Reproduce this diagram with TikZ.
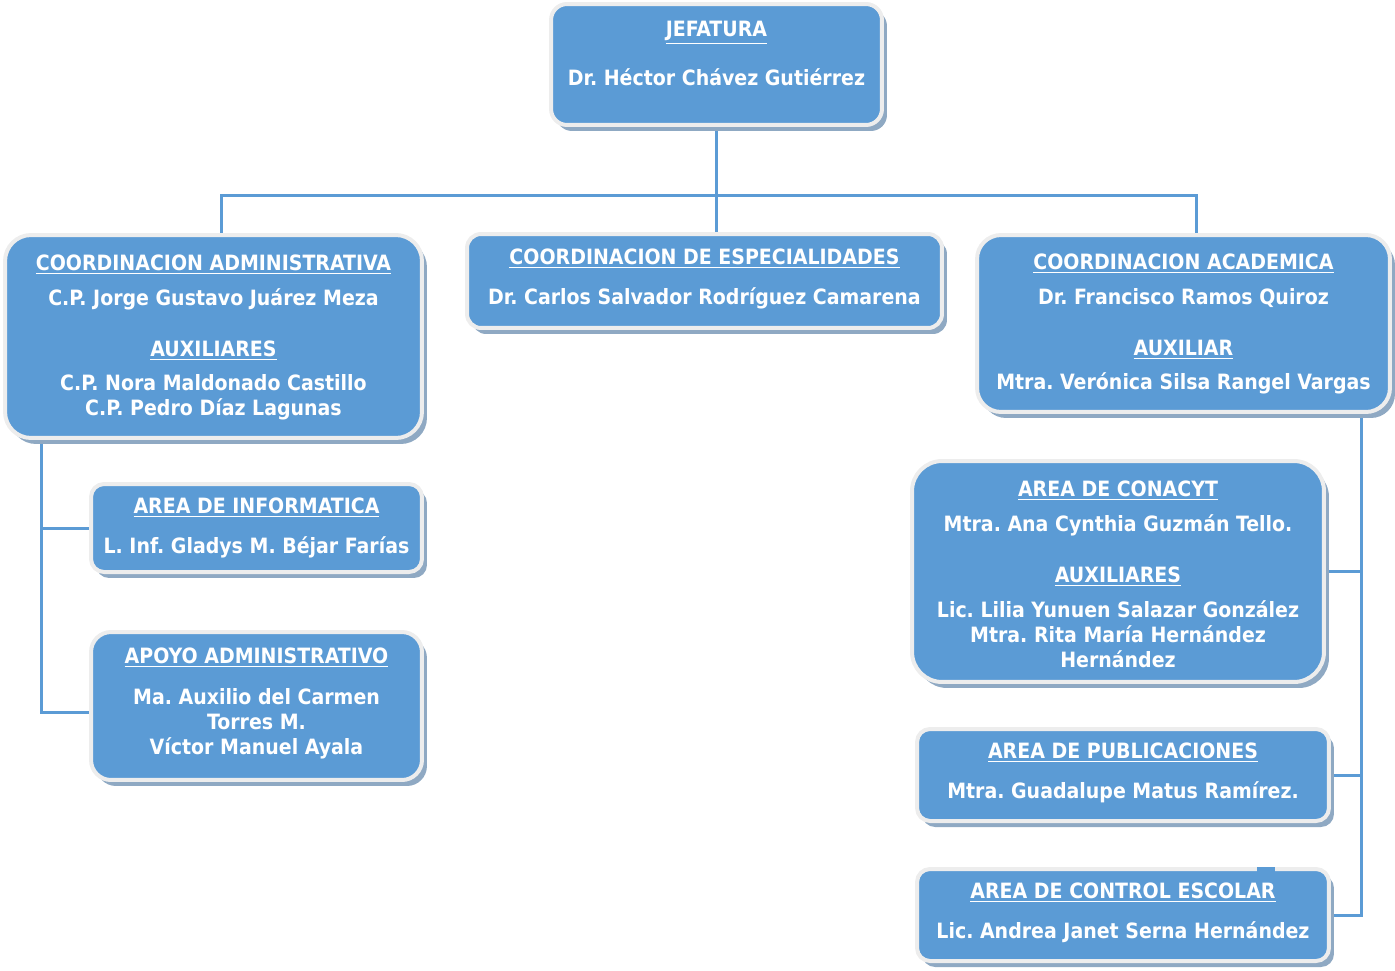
\documentclass[tikz,border=0pt]{standalone}
\usepackage{fontspec}
\setmainfont{DejaVu Sans Condensed}
\usetikzlibrary{positioning,shadows,backgrounds}
\definecolor{boxblue}{HTML}{5B9BD5}
\definecolor{boxrim}{HTML}{EDEDED}
\definecolor{boxshade}{HTML}{8FA9C3}
\frenchspacing

\begin{document}
\begin{tikzpicture}[
    x=0.02cm, y=-0.02cm,
    unit/.style={rectangle, fill=boxblue, draw=boxrim, line width=0.08cm,
        drop shadow={shadow xshift=0.1cm, shadow yshift=-0.12cm, fill=boxshade, opacity=1}},
    txt/.style={text=white, font=\bfseries\fontsize{12}{14.23}\selectfont, align=center, inner sep=0pt},
    link/.style={draw=boxblue, line width=0.06cm}
]
    \useasboundingbox (0,0) rectangle (1395,970);

    % boxes
    \node[unit, minimum width=6.62cm, minimum height=2.42cm, rounded corners=0.32cm] (jefatura) at (716.5,64.5) {};
    \node[unit, minimum width=8.34cm, minimum height=4.06cm, rounded corners=0.52cm] (admin) at (213.5,336.5) {};
    \node[unit, minimum width=9.5cm, minimum height=1.88cm, rounded corners=0.28cm] (espec) at (704.5,281) {};
    \node[unit, minimum width=8.26cm, minimum height=3.54cm, rounded corners=0.48cm] (acad) at (1183.5,323.5) {};
    \node[unit, minimum width=6.62cm, minimum height=1.76cm, rounded corners=0.26cm] (info) at (256.5,528) {};
    \node[unit, minimum width=6.62cm, minimum height=2.96cm, rounded corners=0.4cm] (apoyo) at (256.5,706) {};
    \node[unit, minimum width=8.24cm, minimum height=4.42cm, rounded corners=0.6cm] (conacyt) at (1118,571.5) {};
    \node[unit, minimum width=8.24cm, minimum height=1.84cm, rounded corners=0.26cm] (public) at (1123,775) {};
    \node[unit, minimum width=8.24cm, minimum height=1.84cm, rounded corners=0.26cm] (control) at (1123,915) {};
    \fill[boxblue] (1257,867) rectangle (1275,873);

    % texts
    \node[txt, below=0.37cm of jefatura.north] (jefatura-t) {\underline{JEFATURA}\\[0.48cm]
        Dr. Héctor Chávez Gutiérrez};
    \node[txt, below=0.43cm of admin.north] (admin-t) {\underline{COORDINACION ADMINISTRATIVA}\\[0.2cm]
        C.P. Jorge Gustavo Juárez Meza\\[0.52cm]
        \underline{AUXILIARES}\\[0.18cm]
        C.P. Nora Maldonado Castillo\\
        C.P. Pedro Díaz Lagunas};
    \node[txt, below=0.33cm of espec.north] (espec-t) {\underline{COORDINACION DE ESPECIALIDADES}\\[0.3cm]
        Dr. Carlos Salvador Rodríguez Camarena};
    \node[txt, below=0.41cm of acad.north] (acad-t) {\underline{COORDINACION ACADEMICA}\\[0.2cm]
        Dr. Francisco Ramos Quiroz\\[0.52cm]
        \underline{AUXILIAR}\\[0.18cm]
        Mtra. Verónica Silsa Rangel Vargas};
    \node[txt, below=0.31cm of info.north] (info-t) {\underline{AREA DE INFORMATICA}\\[0.3cm]
        L. Inf. Gladys M. Béjar Farías};
    \node[txt, below=0.35cm of apoyo.north] (apoyo-t) {\underline{APOYO ADMINISTRATIVO}\\[0.32cm]
        Ma. Auxilio del Carmen\\
        Torres M.\\
        Víctor Manuel Ayala};
    \node[txt, below=0.43cm of conacyt.north] (conacyt-t) {\underline{AREA DE CONACYT}\\[0.2cm]
        Mtra. Ana Cynthia Guzmán Tello.\\[0.52cm]
        \underline{AUXILIARES}\\[0.2cm]
        Lic. Lilia Yunuen Salazar González\\
        Mtra. Rita María Hernández\\
        Hernández};
    \node[txt, below=0.31cm of public.north] (public-t) {\underline{AREA DE PUBLICACIONES}\\[0.3cm]
        Mtra. Guadalupe Matus Ramírez.};
    \node[txt, below=0.31cm of control.north] (control-t) {\underline{AREA DE CONTROL ESCOLAR}\\[0.3cm]
        Lic. Andrea Janet Serna Hernández};

    % connectors
    \coordinate (busL) at (221,195);
    \coordinate (busR) at (1196,195);
    \coordinate (trunkL) at (41,712);
    \coordinate (trunkR) at (1361,0);
    \begin{scope}[on background layer]
        \draw[link] (jefatura.south) -- (jefatura.south |- espec.north);
        \draw[link] (busL |- admin.north) -- (busL) -- (busR) -- (busR |- acad.north);
        \draw[link] (trunkL |- admin.south) -- (trunkL) -- (trunkL -| apoyo.west);
        \draw[link] (trunkL |- info.west) -- (info.west);
        \draw[link] (acad.south -| trunkR) -- (control.east -| trunkR) -- (control.east);
        \draw[link] (conacyt.east) -- (conacyt.east -| trunkR);
        \draw[link] (public.east) -- (public.east -| trunkR);
    \end{scope}
\end{tikzpicture}
\end{document}
